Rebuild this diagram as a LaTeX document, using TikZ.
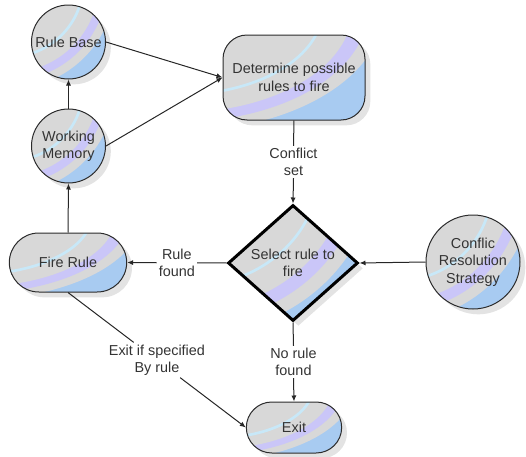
\documentclass[tikz,border=0pt]{standalone}
\usepackage{fontspec}
\setmainfont{Liberation Sans}
\usepackage{xcolor}
\usetikzlibrary{arrows.meta, positioning, calc, shapes.geometric, shapes.misc, shadows}
\definecolor{colSky}{HTML}{A8CBF1}
\definecolor{colLav}{HTML}{CAC6F8}
\definecolor{colGrey}{HTML}{D8D8D8}
\definecolor{colCyan}{HTML}{C8E8F8}
\definecolor{colText}{HTML}{333333}
\definecolor{colEdge}{HTML}{2B2B2B}

\tikzset{
    swoosh/.style={
        path picture={
            \fill[colSky] (path picture bounding box.south west)
                rectangle (path picture bounding box.north east);
            % bands are arcs round a point above left of the shape
            \foreach \rr/\cc in {1.43/colGrey, 1.32/colLav, 1.21/colGrey} {
                \fill[\cc] let \p1=(path picture bounding box.north west),
                    \p2=(path picture bounding box.south east),
                    \n1={\x2-\x1}, \n2={\y1-\y2} in
                    (\x1-0.3*\n1, \y1+0.3*\n2)
                    ellipse [x radius={\rr*\n1}, y radius={\rr*\n2}];
            }
            \draw[colCyan, line width=2pt] let \p1=(path picture bounding box.north west),
                \p2=(path picture bounding box.south east),
                \n1={\x2-\x1}, \n2={\y1-\y2} in
                (\x1-0.3*\n1, \y1+0.3*\n2)
                ellipse [x radius={1.0*\n1}, y radius={1.0*\n2}];
        }
    }
}

\begin{document}
\begin{tikzpicture}[
    x=0.75pt, y=-0.75pt,
    >={Latex[length=4.5pt, width=3.8pt]},
    basebox/.style={
        draw=colEdge, line width=0.75pt, swoosh, align=center,
        text=colText, font=\fontsize{10.8pt}{13pt}\selectfont,
        inner sep=1pt,
        drop shadow={shadow xshift=4pt, shadow yshift=-4pt,
            fill=black!11, opacity=1}
    },
    circbox/.style={basebox, circle, minimum size=55.5pt},
    roundbox/.style={basebox, rectangle, rounded corners=18pt,
        minimum width=106.5pt, minimum height=63.75pt},
    stadbox/.style={basebox, rounded rectangle},
    decisionbox/.style={basebox, diamond, aspect=1.12, inner sep=0pt,
        line width=2.25pt, draw=black,
        minimum width=97.5pt, minimum height=87pt},
    edgelabel/.style={
        align=center, text=colText, inner sep=1.5pt,
        font=\fontsize{10.8pt}{13pt}\selectfont
    },
    link/.style={-, line width=0.75pt, color=black!85},
    flow/.style={->, line width=0.75pt, color=black!85}
]
    \useasboundingbox (0,0) rectangle (526,457);

    % --- KNOWLEDGE SECTION ---
    \node[circbox] (rulebase) at (68.5,42) {Rule Base};
    \node[circbox] (workmem) at (68.5,146) {Working\\Memory};
    \node[stadbox, minimum width=90pt, minimum height=44.25pt]
        (firerule) at (68,262.5) {Fire Rule};

    % --- MATCHING SECTION ---
    \node[roundbox] (determine) at (294,77.5) {Determine possible\\rules to fire};
    \node[decisionbox] (select) at (293,263) {Select rule to\\fire};
    \node[circbox, minimum size=70.5pt] (strategy) at (473,262)
        {Conflic\\Resolution\\Strategy};
    \node[stadbox, minimum width=73.5pt, minimum height=38.25pt]
        (exit) at (294,427.5) {Exit};

    % --- LABELS between nodes ---
    \node[edgelabel] (conflictlbl) at ($(determine.south)!0.5!(select.north)$)
        {Conflict\\set};
    \node[edgelabel] (foundlbl) at ($(firerule.east)!0.5!(select.west)$)
        {Rule\\found};
    \node[edgelabel] (nofoundlbl) at ($(select.south)!0.5!(exit.north)$)
        {No rule\\found};
    \node[edgelabel] (exitlbl) at ($(firerule.south)!0.5!(exit.west)$)
        {Exit if specified\\By rule};

    % --- ARROWS ---
    \draw[flow] (rulebase.east) -- (determine.west);
    \draw[flow] (workmem.east) -- (determine.west);
    \draw[flow] (workmem.north) -- (rulebase.south);
    \draw[flow] (firerule.north) -- (workmem.south);

    \draw[link] (determine.south) -- (conflictlbl.north);
    \draw[flow] (conflictlbl.south) -- (select.north);

    \draw[flow] (strategy.west) -- (select.east);

    \draw[link] (select.west) -- (foundlbl.east);
    \draw[flow] (foundlbl.west) -- (firerule.east);

    \draw[link] (select.south) -- (nofoundlbl.north);
    \draw[flow] (nofoundlbl.south) -- (exit.north);

    \draw[link] (firerule.south) -- (exitlbl);
    \draw[flow] (exitlbl) -- (exit.west);

\end{tikzpicture}
\end{document}
